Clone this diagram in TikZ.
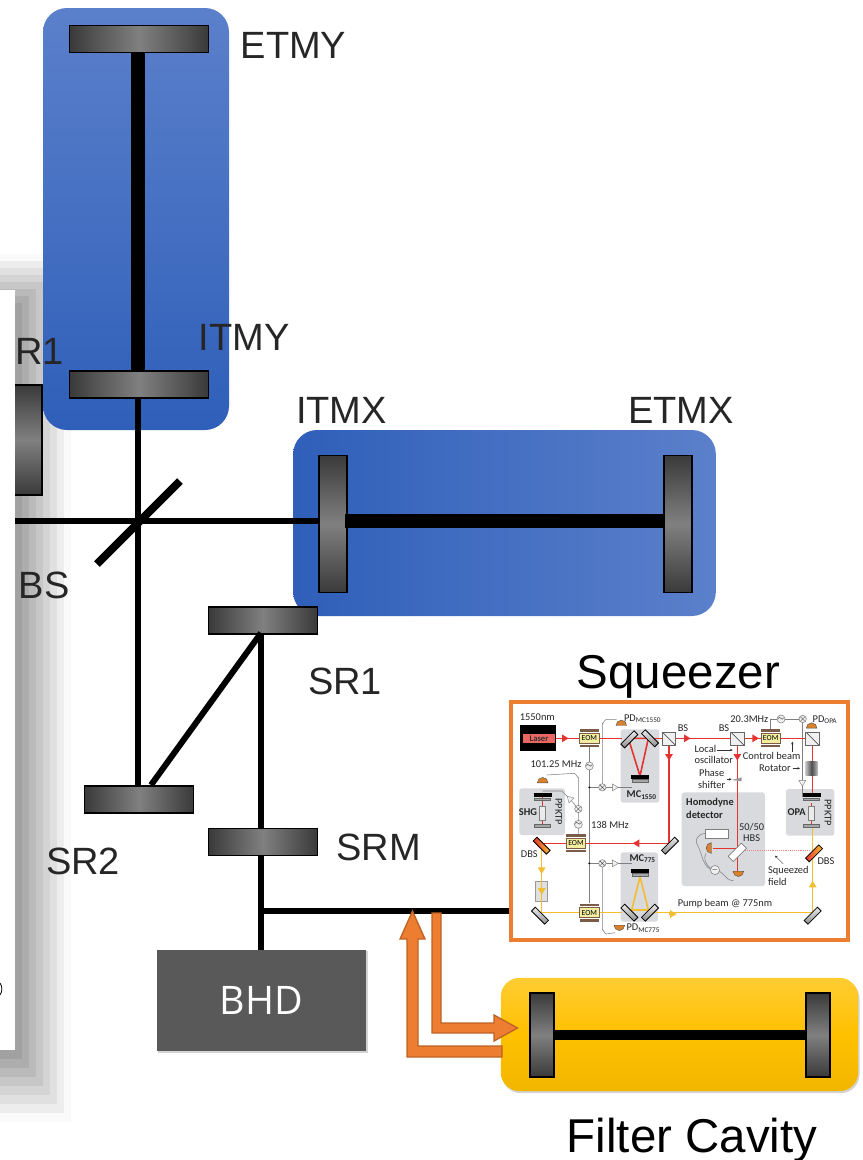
\documentclass[tikz,border=0pt]{standalone}
\usepackage{fontspec}
\setmainfont{Liberation Sans}
\newfontfamily\insetfont{Carlito}
\newfontfamily\bhdfont{Open Sans}
\usetikzlibrary{arrows.meta,shadows,shapes.geometric}
\definecolor{mirdark}{HTML}{3A3A3A}
\definecolor{mirlight}{HTML}{808080}
\definecolor{armlight}{HTML}{5B80CB}
\definecolor{armdark}{HTML}{2F5FB9}
\definecolor{fcamber}{HTML}{FFC000}
\definecolor{outorange}{HTML}{ED7D31}
\definecolor{edgeorange}{HTML}{BF6226}
\definecolor{bhdgray}{HTML}{595959}
\definecolor{labelink}{HTML}{262626}
\definecolor{beamred}{HTML}{E5342F}
\definecolor{beamyellow}{HTML}{F3BD30}
\definecolor{panelgray}{HTML}{D9DADD}
\definecolor{wiregray}{HTML}{7F7F7F}
\definecolor{pdorange}{HTML}{D9822B}
\definecolor{eomyellow}{HTML}{F4EFA0}
\definecolor{eombrown}{HTML}{7A5C48}
\tikzset{
    hmirror/.style={draw=black, line width=1.1pt, inner sep=0pt, left color=mirdark, right color=mirdark, middle color=mirlight, minimum width=81.5pt, minimum height=20.5pt},
    vmirror/.style={draw=black, line width=1.1pt, inner sep=0pt, top color=mirdark, bottom color=mirdark, middle color=mirlight, minimum width=21pt, minimum height=103pt},
    testmass/.style={hmirror, minimum width=104pt},
    fcmirror/.style={vmirror, minimum width=18pt, minimum height=63pt},
    beam/.style={line width=4.5pt},
    armbeam/.style={line width=10pt},
    armlabel/.style={anchor=base, text=labelink, font=\fontsize{28.5}{30}\selectfont},
    titlelabel/.style={anchor=base, text=black, font=\fontsize{35.6}{38}\selectfont},
    orangearrow/.style={fill=outorange, draw=edgeorange, line width=1pt, line join=miter},
    insettext/.style={font=\insetfont\fontsize{7.8}{8.4}\selectfont, text=black!85, inner sep=0pt, align=center},
    insetbold/.style={insettext, font=\insetfont\bfseries\fontsize{7.8}{9.5}\selectfont},
    graypanel/.style={fill=panelgray, rounded corners=2pt},
    redbeam/.style={draw=beamred, line width=1.2pt},
    yellowbeam/.style={draw=beamyellow, line width=1.2pt},
    redtip/.style={redbeam, -{Triangle[length=5pt,width=5.5pt]}},
    yellowtip/.style={yellowbeam, -{Triangle[length=5pt,width=5.5pt]}},
    wire/.style={draw=wiregray, line width=0.4pt},
    pointer/.style={draw=black!80, line width=0.3pt, -{Stealth[length=2pt,width=1.8pt]}},
    eombox/.style={draw=eombrown, fill=eomyellow, line width=0.3pt, inner sep=0pt, minimum width=14.5pt, minimum height=7.5pt, font=\insetfont\fontsize{5.8}{6}\selectfont},
    eombar/.style={fill=eombrown, inner sep=0pt, minimum width=14.5pt, minimum height=2.2pt},
    bscube/.style={draw=black!60, fill=black!6, line width=0.4pt, inner sep=0pt, minimum size=10pt, path picture={\draw[black!80, line width=0.4pt] (path picture bounding box.north west) -- (path picture bounding box.south east);}},
    tiltmirror/.style={draw=black, top color=black!8, bottom color=black!45, line width=0.6pt, inner sep=0pt, minimum width=14pt, minimum height=4pt},
    dbsmirror/.style={draw=black, left color=beamred, right color=beamyellow, line width=0.6pt, inner sep=0pt, minimum width=14pt, minimum height=4pt},
    pzt/.style={fill=black, inner sep=0pt, minimum width=13.5pt, minimum height=2.8pt},
    mirbase/.style={fill=black!35, draw=black!60, line width=0.3pt, inner sep=0pt, minimum width=12pt, minimum height=1.8pt},
    crystal/.style={fill=black!8, draw=black!50, line width=0.3pt, inner sep=0pt, minimum width=4.5pt, minimum height=11pt},
    mixer/.style={circle, draw=wiregray, fill=black!6, line width=0.4pt, inner sep=0pt, minimum size=5.5pt, path picture={\draw[black!70, line width=0.3pt] (path picture bounding box.north west) -- (path picture bounding box.south east) (path picture bounding box.north east) -- (path picture bounding box.south west);}},
    osc/.style={circle, draw=wiregray, fill=black!6, line width=0.4pt, inner sep=0pt, minimum size=6pt, font=\fontsize{5}{5}\selectfont},
    amp/.style={regular polygon, regular polygon sides=3, draw=wiregray, fill=black!6, line width=0.3pt, inner sep=0pt, minimum size=6pt},
    pdiode/.style={semicircle, fill=pdorange, draw=black!70, line width=0.3pt, inner sep=0pt, minimum width=8pt, minimum height=4pt},
    junction/.style={circle, fill=black, inner sep=0pt, minimum size=1.5pt}
}
\begin{document}
\begin{tikzpicture}[x=0.75pt, y=-0.75pt]
    \useasboundingbox (0,0) rectangle (863,1160);

    % Blurred edge of the slide behind
    \foreach \i in {8,...,1} {
        \pgfmathsetmacro{\shadepct}{42-5*\i}
        \fill[black!\shadepct] (0,{310-7*\i}) rectangle ({15+7*\i},{1050+9*\i});
    }
    \fill[white] (0,290) rectangle (15,1050);
    \draw[black, line width=0.6pt] (0,983) .. controls (2.5,986) and (2.5,992) .. (0,995);

    % Arm cavities
    \node[rounded corners=18pt, top color=armlight, bottom color=armdark, inner sep=0pt, minimum width=139.5pt, minimum height=316.5pt] (yarm) at (136,219) {};
    \node[rounded corners=18pt, left color=armdark, right color=armlight, inner sep=0pt, minimum width=317pt, minimum height=139.5pt] (xarm) at (504.5,523) {};

    % Mirrors
    \node[testmass] (ETMY) at (139,39) {};
    \node[testmass] (ITMY) at (139,384.5) {};
    \node[vmirror] (ITMX) at (333,524) {};
    \node[vmirror] (ETMX) at (678,524) {};
    \node[hmirror] (SRone) at (263,620.5) {};
    \node[hmirror] (SRtwo) at (139,799.5) {};
    \node[hmirror] (SRM) at (263,842) {};
    \fill[top color=mirdark, bottom color=mirdark, middle color=mirlight] (15,385) rectangle (42,495);
    \draw[black, line width=0.8pt] (15,385) -- (42,385) -- (42,495) -- (15,495);

    % Beams
    \coordinate (leftend) at (15,521);
    \coordinate (bsa) at (97,564);
    \coordinate (bsb) at (180,481);
    \coordinate (srup) at (261,633);
    \coordinate (srdown) at (151,785);
    \coordinate (bhdfork) at (258.75,911);
    \coordinate (sqzin) at (512,911);
    \draw[armbeam] (138,53) -- (138,370);
    \draw[armbeam] (345,521) -- (663,521);
    \draw[beam] (138,399) -- (138,785);
    \draw[beam] (leftend) -- (ITMX.west |- leftend);
    \draw[line width=6pt] (bsa) -- (bsb);
    \draw[beam] (srup) -- (srdown);
    \draw[beam] (261,635) -- (261,828);
    \draw[beam] (261,856) -- (261,950);
    \draw[beam] (bhdfork) -- (sqzin);

    % Homodyne box
    \node[rectangle, fill=bhdgray, text=white, drop shadow={shadow xshift=1pt, shadow yshift=-1pt, opacity=0.35}, inner sep=0pt, minimum width=157pt, minimum height=76pt, font=\bhdfont\fontsize{29.5}{31}\selectfont] (BHD) at (261.5,1000.5) {BHD};

    % Filter cavity
    \node[rounded corners=14pt, top color=fcamber!80!white, bottom color=fcamber!95!black, middle color=fcamber, drop shadow={shadow xshift=1pt, shadow yshift=-1.5pt, opacity=0.35}, inner sep=0pt, minimum width=268pt, minimum height=85pt] (FC) at (679.5,1034.5) {};
    \node[fcmirror] (FCin) at (542,1035) {};
    \node[fcmirror] (FCend) at (818,1035) {};
    \draw[line width=7.5pt] (FCin.east) -- (FCend.west);

    % Orange in and out arrows
    \draw[orangearrow] (412.5,911) -- (425,939) -- (418,939) -- (418,1046) -- (502,1046) -- (502,1057) -- (407,1057) -- (407,939) -- (400,939) -- cycle;
    \draw[orangearrow] (432,913) -- (441,913) -- (441,1023) -- (494,1023) -- (494,1015) -- (517.5,1028) -- (494,1041) -- (494,1033) -- (432,1033) -- cycle;

    % Labels
    \node[armlabel] (lETMY) at (293.5,58) {ETMY};
    \node[armlabel] (lITMY) at (244,350) {ITMY};
    \node[armlabel] (lITMX) at (341.5,423) {ITMX};
    \node[armlabel] (lETMX) at (681,423) {ETMX};
    \node[armlabel] (lRone) at (39.5,364) {R1};
    \node[armlabel] (lBS) at (44,598) {BS};
    \node[armlabel] (lSRone) at (345,694) {SR1};
    \node[armlabel] (lSRtwo) at (83,874) {SR2};
    \node[armlabel] (lSRM) at (378.5,860) {SRM};
    \node[titlelabel] (lSqz) at (678.5,688) {Squeezer};
    \node[titlelabel] (lFC) at (692,1152) {Filter Cavity};

    % Squeezer layout, in its own finer grid
    \begin{scope}[shift={(500,690)}, x=0.25pt, y=-0.25pt]
        \fill[white] (33,37) rectangle (1045,750);
        \draw[outorange, line width=3pt] (33,37) rectangle (1045,750);

        % Grey panels
        \fill[graypanel] (362,118) rectangle (478,338);
        \fill[graypanel] (362,487) rectangle (474,695);
        \fill[graypanel] (58,295) rectangle (195,435);
        \fill[graypanel] (545,307) rectangle (795,588);
        \fill[graypanel] (858,297) rectangle (1003,437);

        % Control wires
        \draw[wire] (268,172) -- (268,640);
        \draw[wire] (268,292) -- (395,292);
        \draw[wire] (268,520) -- (395,520);
        \draw[wire] (307,292) -- (307,100) to[out=-90,in=180] (320,88) -- (350,88);
        \draw[wire] (307,520) -- (307,720) to[out=90,in=180] (320,732) -- (345,728);
        \draw[wire] (140,255) -- (222,250) to[out=0,in=-90] (235,262) -- (235,435);
        \draw[wire] (128,303) -- (185,303) -- (210,327) -- (235,357);
        \draw[wire] (812,118) -- (812,87) -- (908,87);
        \draw[wire] (908,87) -- (908,320);
        \draw[wire] (615,430) to[out=180,in=120] (590,460) to[out=-60,in=180] (645,540) to[out=0,in=180] (700,572);
        \draw[wire] (618,490) to[out=-120,in=170] (645,540);

        % Red beams
        \draw[redbeam] (168,145) -- (365,145);
        \draw[redbeam] (385,145) -- (420,258) -- (445,145) -- (385,145);
        \draw[redbeam] (450,145) -- (937,145) -- (937,320);
        \draw[redbeam] (507,165) -- (507,460) -- (125,460);
        \draw[redbeam] (712,165) -- (712,550);
        \draw[redbeam] (712,475) -- (640,475);
        \draw[redbeam] (128,320) -- (128,410);
        \draw[redbeam] (935,340) -- (935,410);
        \foreach \a/\b in {{(188,145)/(206,145)}, {(530,145)/(572,145)}, {(757,145)/(777,145)}, {(507,192)/(507,212)}, {(712,192)/(712,212)}, {(420,460)/(398,460)}} {
            \draw[redtip] \a -- \b;
        }
        \draw[draw=beamred!60, line width=0.4pt, densely dotted] (725,482) -- (930,482);

        % Yellow beams
        \node[draw=black!40, fill=black!12, inner sep=0pt, minimum width=9pt, minimum height=15pt] (iso) at (125,603) {};
        \draw[yellowbeam] (125,475) -- (125,668) -- (365,668);
        \draw[yellowbeam] (395,660) -- (420,560) -- (445,660) -- cycle;
        \draw[yellowbeam] (450,668) -- (938,668) -- (938,410);
        \foreach \a/\b in {{(125,530)/(125,552)}, {(125,590)/(125,614)}, {(508,672)/(530,672)}, {(938,592)/(938,572)}} {
            \draw[yellowtip] \a -- \b;
        }

        % Laser
        \node[fill=black, inner sep=0pt, minimum width=27pt, minimum height=19.5pt] (laser) at (114,145) {};
        \node[fill=beamred!75, inner sep=0pt, minimum width=24pt, minimum height=7pt, font=\insetfont\bfseries\fontsize{6.5}{7}\selectfont, text=black!80] (lasertext) at (117,145) {Laser};

        % EOMs
        \foreach \nm/\px/\py in {eomA/268/145, eomB/228/460, eomC/268/668, eomD/812/145} {
            \node[eombar] at (\px,\py-23) {};
            \node[eombar] at (\px,\py+23) {};
            \node[eombox] (\nm) at (\px,\py) {EOM};
        }

        % Cubes and tilted mirrors
        \node[bscube] (bsA) at (507,146) {};
        \node[bscube] (bsB) at (712,146) {};
        \node[bscube] (bsC) at (937,146) {};
        \foreach \nm/\px/\py/\ang in {mcA/388/148/45, mcB/450/145/-45, fold/510/467/45, foldB/120/677/-45, mcC/388/668/-45, mcD/450/668/45, foldC/938/677/45} {
            \node[tiltmirror, rotate=\ang] (\nm) at (\px,\py) {};
        }
        \node[dbsmirror, rotate=-45] (dbsL) at (125,467) {};
        \node[dbsmirror, rotate=45] (dbsR) at (942,490) {};
        \node[draw=black!60, fill=white, inner sep=0pt, minimum width=14pt, minimum height=5.5pt, rotate=45] (hbs) at (712,487) {};
        \node[left color=black!25, right color=black!25, middle color=black!70, inner sep=0pt, minimum width=9pt, minimum height=10pt] (rot) at (935,235) {};
        \fill[black!40] (695,270) -- (725,262) -- (725,274) -- cycle;

        % Cavity optics
        \node[pzt] (pztA) at (420,262) {};
        \node[mirbase] (baseA) at (420,272) {};
        \node[pzt] (pztB) at (420,542) {};
        \node[mirbase] (baseB) at (420,554) {};
        \foreach \px in {128,935} {
            \node[pzt] at (\px,316) {};
            \node[mirbase] at (\px,328) {};
            \node[crystal] at (\px,370) {};
            \node[mirbase] at (\px,407) {};
        }

        % Detectors
        \node[pdiode] (pdMC) at (364,100) {};
        \node[pdiode, rotate=180] (pdLow) at (358,712) {};
        \node[pdiode] (pdSHG) at (128,272) {};
        \node[pdiode] (pdOPA) at (935,108) {};
        \node[pdiode, rotate=90] (pdHA) at (628,474) {};
        \node[pdiode, rotate=180] (pdHB) at (715,550) {};
        \node[draw=wiregray, fill=white, inner sep=0pt, minimum width=17.5pt, minimum height=6.5pt] (specan) at (650,431) {};

        % Electronics
        \node[mixer] (mixA) at (307,292) {};
        \node[mixer] (mixB) at (235,357) {};
        \node[mixer] (mixC) at (307,520) {};
        \node[mixer] (mixD) at (908,87) {};
        \node[osc] (oscA) at (268,228) {$\sim$};
        \node[osc] (oscB) at (235,403) {$\sim$};
        \node[osc] (oscC) at (843,87) {$\sim$};
        \node[amp, rotate=-90] (ampA) at (343,292) {};
        \node[amp, rotate=-90] (ampB) at (343,520) {};
        \node[amp, rotate=45] (ampC) at (210,327) {};
        \node[amp, rotate=180] (ampD) at (907,277) {};
        \node[osc] (sub) at (645,540) {$-$};
        \node[junction] at (268,292) {};
        \node[junction] at (268,520) {};

        % Inset texts
        \node[insettext] (tA) at (112,82) {1550nm};
        \node[insettext] (tB) at (428,86) {PD\textsubscript{MC1550}};
        \node[insettext] (tC) at (549,115) {BS};
        \node[insettext] (tD) at (672,115) {BS};
        \node[insettext] (tE) at (748,87) {20.3MHz};
        \node[insettext] (tF) at (975,90) {PD\textsubscript{OPA}};
        \node[insettext, align=left, anchor=west] (tG) at (583,193) {Local\\oscillator};
        \node[insettext] (tH) at (815,199) {Control beam};
        \node[insettext] (tI) at (825,234) {Rotator};
        \node[insettext] (tJ) at (168,223) {101.25 MHz};
        \node[insettext] (tK) at (635,267) {Phase\\shifter};
        \node[insetbold] (tL) at (425,315) {MC\textsubscript{1550}};
        \node[insetbold, align=left] (tM) at (630,355) {Homodyne\\detector};
        \node[insetbold] (tN) at (84,365) {SHG};
        \node[insettext, rotate=-90] (tO) at (176,365) {PPKTP};
        \node[insetbold] (tP) at (890,365) {OPA};
        \node[insettext, rotate=-90] (tQ) at (984,368) {PPKTP};
        \node[insettext] (tR) at (330,405) {138 MHz};
        \node[insettext] (tS) at (755,428) {50/50\\HBS};
        \node[insettext] (tT) at (88,493) {DBS};
        \node[insettext] (tU) at (978,513) {DBS};
        \node[insetbold] (tV) at (428,506) {MC\textsubscript{775}};
        \node[insettext, align=left] (tW) at (865,558) {Squeezed\\field};
        \node[insettext] (tX) at (675,642) {Pump beam @ 775nm};
        \node[insettext] (tY) at (430,715) {PD\textsubscript{MC775}};

        % Little pointers
        \draw[pointer] (652,180) -- (698,180);
        \draw[pointer] (877,185) -- (877,155);
        \draw[pointer] (878,235) -- (900,235);
        \draw[pointer] (682,268) -- (695,268);
        \draw[pointer] (850,522) -- (825,497);
    \end{scope}
\end{tikzpicture}
\end{document}
